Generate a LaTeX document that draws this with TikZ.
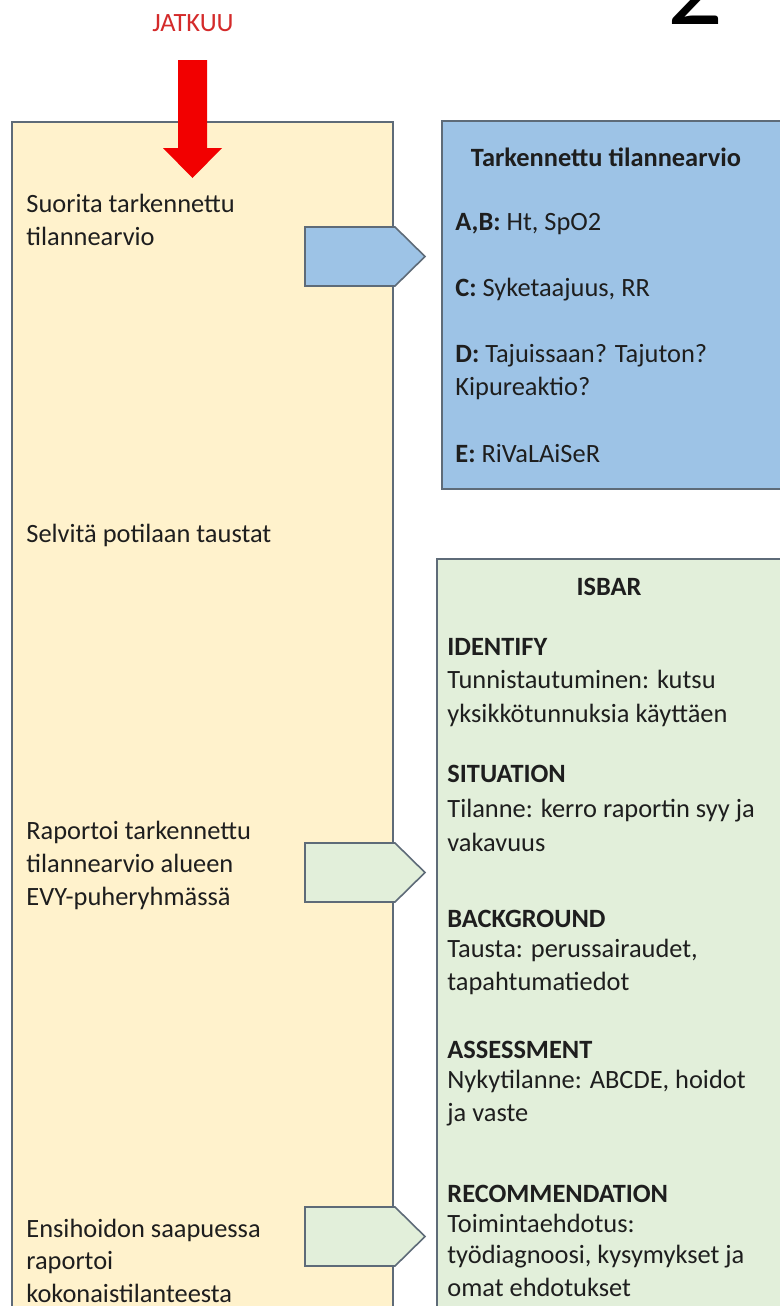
\documentclass[tikz,border=0pt]{standalone}
\usepackage{fontspec}
\setmainfont{Carlito}
\usetikzlibrary{arrows.meta,positioning,calc}
\definecolor{pbeige}{HTML}{FFF2CC}
\definecolor{pblue}{HTML}{9DC3E6}
\definecolor{pgreen}{HTML}{E2EFDA}
\definecolor{pedge}{HTML}{5E6B78}
\definecolor{pred}{HTML}{F20000}
\definecolor{pjat}{HTML}{D42A2A}
\definecolor{ptext}{HTML}{1E1E1E}
\tikzset{
  panel/.style={draw=pedge,line width=0.8pt},
  tag/.style={draw=pedge,line width=0.8pt,line join=miter},
  txt/.style={anchor=base west,inner sep=0pt,text=ptext,font=\fontsize{13.2}{16.5}\selectfont},
  hdr/.style={txt,anchor=base,font=\fontsize{13.2}{16.5}\selectfont\bfseries},
}

\begin{document}
\begin{tikzpicture}[x=0.5pt,y=-0.5pt]
  \useasboundingbox (0,0) rectangle (780,1306);
  \clip (0,0) rectangle (780,1306);
  \fill[white] (0,0) rectangle (780,1306);
  \node[txt,anchor=base,text=pjat] (jatkuu) at (193,32) {JATKUU};
  \node[anchor=base,inner sep=0pt,font=\fontsize{55}{60}\selectfont] (pagenum) at (695,25) {2};
  \draw[panel,fill=pbeige] (12,122) rectangle (393,1400);
  \draw[panel,fill=pblue] (442,121) rectangle (800,489);
  \draw[panel,fill=pgreen] (437,559) rectangle (800,1400);
  \coordinate (arrtop) at (192.5,60);
  \fill[pred] (arrtop) ++(-14.5,0) -- ++(29,0) -- ++(0,88) -- ++(15,0) -- ++(-29.5,30) -- ++(-29.5,-30) -- ++(15,0) -- cycle;
  \foreach \y/\c [count=\i] in {227/pblue,843/pgreen,1207/pgreen} {
    \coordinate (t\i) at (305,\y);
    \draw[tag,fill=\c] (t\i) -- ++(90,0) -- ++(30,29.5) -- ++(-30,29.5) -- ++(-90,0) -- cycle;
  }
  \foreach \y/\t [count=\i] in {212/Suorita tarkennettu,245/tilannearvio,542/Selvitä potilaan taustat,
      839/Raportoi tarkennettu,872/tilannearvio alueen,905/EVY-puheryhmässä,
      1237/Ensihoidon saapuessa,1269/raportoi,1302/kokonaistilanteesta}
    \node[txt] (l\i) at (26,\y) {\t};
  \node[hdr] (bhead) at (606,166) {Tarkennettu tilannearvio};
  \foreach \y/\t [count=\i] in {230/{\textbf{A,B:} Ht, SpO2},296/{\textbf{C:} Syketaajuus, RR},
      362/{\textbf{D:} Tajuissaan? Tajuton?},395/Kipureaktio?,462/{\textbf{E:} RiVaLAiSeR}}
    \node[txt] (b\i) at (455,\y) {\t};
  \node[hdr] (ghead) at (609,595) {ISBAR};
  \foreach \y/\t [count=\i] in {655/\textbf{IDENTIFY},688/Tunnistautuminen: kutsu,722/yksikkötunnuksia käyttäen,
      782/\textbf{SITUATION},817/Tilanne: kerro raportin syy ja,851/vakavuus,
      927/\textbf{BACKGROUND},957/{Tausta: perussairaudet,},990/tapahtumatiedot,
      1058/\textbf{ASSESSMENT},1088/{Nykytilanne: ABCDE, hoidot},1121/ja vaste,
      1202/\textbf{RECOMMENDATION},1232/Toimintaehdotus:,1263/{työdiagnoosi, kysymykset ja},1296/omat ehdotukset}
    \node[txt] (g\i) at (447,\y) {\t};
\end{tikzpicture}
\end{document}
